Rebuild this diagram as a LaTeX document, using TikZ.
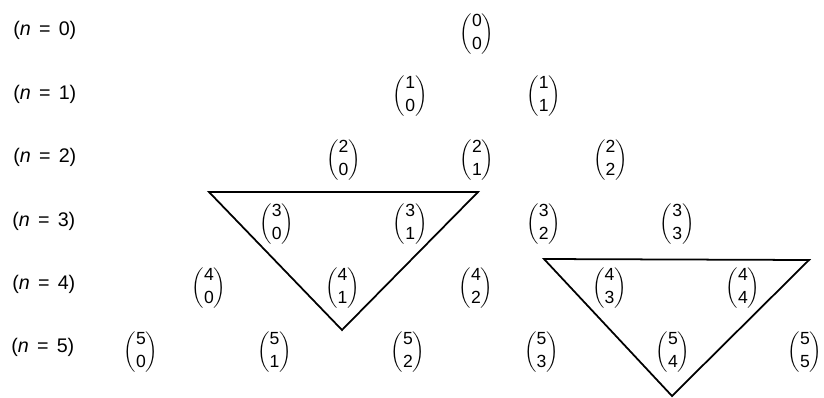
\documentclass[tikz,border=0pt]{standalone}
\usepackage{amsmath}
\usepackage{fontspec}
\setmainfont{Liberation Sans}
\usepackage{tikz}
\usetikzlibrary{positioning}

\newcommand{\eqsp}{\hspace{0.42em}}

\begin{document}
\begin{tikzpicture}[
    x=0.025cm, y=-0.025cm,
    bin_node/.style = {inner sep=0pt, font=\fontsize{12.5}{15}\selectfont},
    row_label/.style = {anchor=west, inner sep=0pt, font=\fontsize{14}{16}\selectfont},
    pascal_tri/.style = {line width=1.25pt, line join=miter}
]
\useasboundingbox (0,0) rectangle (824,397);

% --- Row labels ---
\node[row_label] (lab0) at (13, 30) {(\textit{n}\eqsp=\eqsp0)};
\node[row_label] (lab1) at (13, 94) {(\textit{n}\eqsp=\eqsp1)};
\node[row_label] (lab2) at (13, 157) {(\textit{n}\eqsp=\eqsp2)};
\node[row_label] (lab3) at (12, 221) {(\textit{n}\eqsp=\eqsp3)};
\node[row_label] (lab4) at (12, 284) {(\textit{n}\eqsp=\eqsp4)};
\node[row_label] (lab5) at (11, 347) {(\textit{n}\eqsp=\eqsp5)};

% --- Binomial coefficients ---
\node[bin_node] (b00) at (477, 34) {$\dbinom{\text{0}}{\text{0}}$};

\node[bin_node] (b10) at (410.25, 96) {$\dbinom{\text{1}}{\text{0}}$};
\node[bin_node] (b11) at (543.75, 96) {$\dbinom{\text{1}}{\text{1}}$};

\node[bin_node] (b20) at (343.5, 160) {$\dbinom{\text{2}}{\text{0}}$};
\node[bin_node] (b21) at (477, 160) {$\dbinom{\text{2}}{\text{1}}$};
\node[bin_node] (b22) at (610.5, 160) {$\dbinom{\text{2}}{\text{2}}$};

\node[bin_node] (b30) at (276.75, 224) {$\dbinom{\text{3}}{\text{0}}$};
\node[bin_node] (b31) at (410.25, 224) {$\dbinom{\text{3}}{\text{1}}$};
\node[bin_node] (b32) at (543.75, 224) {$\dbinom{\text{3}}{\text{2}}$};
\node[bin_node] (b33) at (677.25, 224) {$\dbinom{\text{3}}{\text{3}}$};

\node[bin_node] (b40) at (209, 288) {$\dbinom{\text{4}}{\text{0}}$};
\node[bin_node] (b41) at (342.5, 288) {$\dbinom{\text{4}}{\text{1}}$};
\node[bin_node] (b42) at (476, 288) {$\dbinom{\text{4}}{\text{2}}$};
\node[bin_node] (b43) at (609.5, 288) {$\dbinom{\text{4}}{\text{3}}$};
\node[bin_node] (b44) at (743, 288) {$\dbinom{\text{4}}{\text{4}}$};

\node[bin_node] (b50) at (141, 352) {$\dbinom{\text{5}}{\text{0}}$};
\node[bin_node] (b51) at (274.5, 352) {$\dbinom{\text{5}}{\text{1}}$};
\node[bin_node] (b52) at (408, 352) {$\dbinom{\text{5}}{\text{2}}$};
\node[bin_node] (b53) at (541.5, 352) {$\dbinom{\text{5}}{\text{3}}$};
\node[bin_node] (b54) at (673, 352) {$\dbinom{\text{5}}{\text{4}}$};
\node[bin_node] (b55) at (805, 352) {$\dbinom{\text{5}}{\text{5}}$};

% --- Triangles ---
\coordinate (ta1) at (209, 192);
\coordinate (tb1) at (478, 192);
\coordinate (tc1) at (342, 330);
\draw[pascal_tri] (ta1) -- (tb1) -- (tc1) -- cycle;

\coordinate (ta2) at (544, 259);
\coordinate (tb2) at (809, 260);
\coordinate (tc2) at (672, 396);
\draw[pascal_tri] (ta2) -- (tb2) -- (tc2) -- cycle;

\end{tikzpicture}
\end{document}
